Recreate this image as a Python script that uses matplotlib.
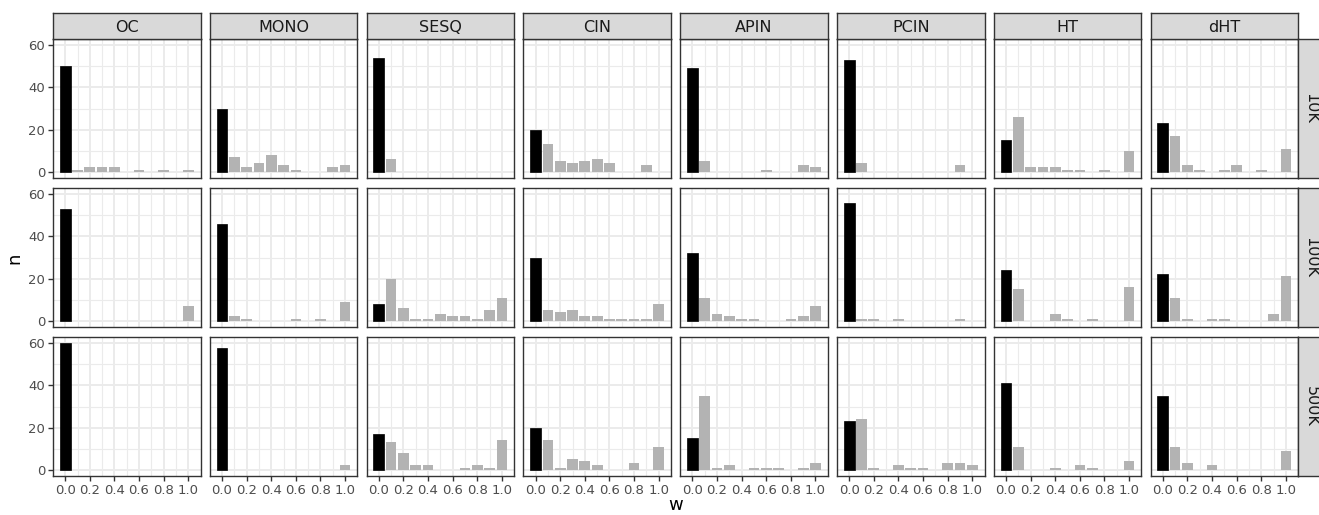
import numpy as np
import matplotlib.pyplot as plt

# histogram bins (w) and facet labels
w_bins = [0.0, 0.1, 0.2, 0.3, 0.4, 0.5, 0.6, 0.7, 0.8, 0.9, 1.0]
species = ["OC", "MONO", "SESQ", "CIN", "APIN", "PCIN", "HT", "dHT"]
sizes = ["10K", "100K", "500K"]

# counts n per bin, one list per species, one dict per size
n_10k = {
    "OC":   [50, 1, 2, 2, 2, 0, 1, 0, 1, 0, 1],
    "MONO": [30, 7, 2, 4, 8, 3, 1, 0, 0, 2, 3],
    "SESQ": [54, 6, 0, 0, 0, 0, 0, 0, 0, 0, 0],
    "CIN":  [20, 13, 5, 4, 5, 6, 4, 0, 0, 3, 0],
    "APIN": [49, 5, 0, 0, 0, 0, 1, 0, 0, 3, 2],
    "PCIN": [53, 4, 0, 0, 0, 0, 0, 0, 0, 3, 0],
    "HT":   [15, 26, 2, 2, 2, 1, 1, 0, 1, 0, 10],
    "dHT":  [23, 17, 3, 1, 0, 1, 3, 0, 1, 0, 11],
}
n_100k = {
    "OC":   [53, 0, 0, 0, 0, 0, 0, 0, 0, 0, 7],
    "MONO": [46, 2, 1, 0, 0, 0, 1, 0, 1, 0, 9],
    "SESQ": [8, 20, 6, 1, 1, 3, 2, 2, 1, 5, 11],
    "CIN":  [30, 5, 4, 5, 2, 2, 1, 1, 1, 1, 8],
    "APIN": [32, 11, 3, 2, 1, 1, 0, 0, 1, 2, 7],
    "PCIN": [56, 1, 1, 0, 1, 0, 0, 0, 0, 1, 0],
    "HT":   [24, 15, 0, 0, 3, 1, 0, 1, 0, 0, 16],
    "dHT":  [22, 11, 1, 0, 1, 1, 0, 0, 0, 3, 21],
}
n_500k = {
    "OC":   [60, 0, 0, 0, 0, 0, 0, 0, 0, 0, 0],
    "MONO": [58, 0, 0, 0, 0, 0, 0, 0, 0, 0, 2],
    "SESQ": [17, 13, 8, 2, 2, 0, 0, 1, 2, 1, 14],
    "CIN":  [20, 14, 1, 5, 4, 2, 0, 0, 3, 0, 11],
    "APIN": [15, 35, 1, 2, 0, 1, 1, 1, 0, 1, 3],
    "PCIN": [23, 24, 1, 0, 2, 1, 1, 0, 3, 3, 2],
    "HT":   [41, 11, 0, 0, 1, 0, 2, 1, 0, 0, 4],
    "dHT":  [35, 11, 3, 0, 2, 0, 0, 0, 0, 0, 9],
}
counts = {"10K": n_10k, "100K": n_100k, "500K": n_500k}

W, H = 1319, 515
plt.rcParams['font.family'] = ['DejaVu Sans']


def px_box(x0, y0, w, h):
    """pixel box (top-left origin) -> figure fraction rect"""
    return [x0 / W, 1 - (y0 + h) / H, w / W, h / H]


fig = plt.figure(figsize=(W / 100, H / 100), dpi=100)

left0, pw, gap_x = 53, 147.5, 9.3
top0, ph, gap_y = 39, 139, 10
strip_h = 26
border = '#333333'

for r, size in enumerate(sizes):
    y0 = top0 + r * (ph + gap_y)
    for c, sp in enumerate(species):
        x0 = left0 + c * (pw + gap_x)
        ax = fig.add_axes(px_box(x0, y0, pw, ph))
        vals = counts[size][sp]
        cols = ['black' if w == 0 else '#b3b3b3' for w in w_bins]
        edges = ['black' if w == 0 else 'none' for w in w_bins]
        ax.bar(w_bins, vals, width=0.087, color=cols, edgecolor=edges,
               linewidth=0.5, zorder=3)
        ax.set_xlim(-0.0995, 1.0995)
        ax.set_ylim(-3, 63)
        ax.set_xticks([0.0, 0.2, 0.4, 0.6, 0.8, 1.0])
        ax.set_xticks([0.1, 0.3, 0.5, 0.7, 0.9], minor=True)
        ax.set_yticks([0, 20, 40, 60])
        ax.set_yticks([10, 30, 50], minor=True)
        ax.grid(which='major', color='#ebebeb', lw=1.4, zorder=0)
        ax.grid(which='minor', color='#ebebeb', lw=0.8, zorder=0)
        ax.set_axisbelow(True)
        for s in ax.spines.values():
            s.set_color(border)
            s.set_linewidth(1.0)
        ax.tick_params(which='minor', length=0)
        ax.tick_params(which='major', length=3.5, width=1.0, color=border,
                       labelsize=9.5, labelcolor='#4d4d4d', pad=2)
        if r == len(sizes) - 1:
            ax.set_xticklabels(['0.0', '0.2', '0.4', '0.6', '0.8', '1.0'])
        else:
            ax.tick_params(axis='x', which='major', length=0, labelbottom=False)
        if c != 0:
            ax.tick_params(axis='y', which='major', length=0, labelleft=False)

        # column strip
        if r == 0:
            st = fig.add_axes(px_box(x0, top0 - strip_h, pw, strip_h))
            st.set_facecolor('#d9d9d9')
            st.set_xticks([])
            st.set_yticks([])
            for s in st.spines.values():
                s.set_color(border)
                s.set_linewidth(1.0)
            st.text(0.5, 0.45, sp, ha='center', va='center', fontsize=11.5,
                    color='#1a1a1a', transform=st.transAxes)

    # row strip on the right
    xs = left0 + len(species) * pw + (len(species) - 1) * gap_x
    st = fig.add_axes(px_box(xs, y0, strip_h, ph))
    st.set_facecolor('#d9d9d9')
    st.set_xticks([])
    st.set_yticks([])
    for s in st.spines.values():
        s.set_color(border)
        s.set_linewidth(1.0)
    st.text(0.5, 0.5, size, ha='center', va='center', fontsize=11.5,
            rotation=-90, color='#1a1a1a', transform=st.transAxes)

fig.text(14 / W, 1 - 258 / H, 'n', rotation=90, ha='center', va='center',
         fontsize=13, color='black')
fig.text(676 / W, 1 - 505 / H, 'w', ha='center', va='center',
         fontsize=13, color='black')

fig.savefig('out.png', dpi=100)
